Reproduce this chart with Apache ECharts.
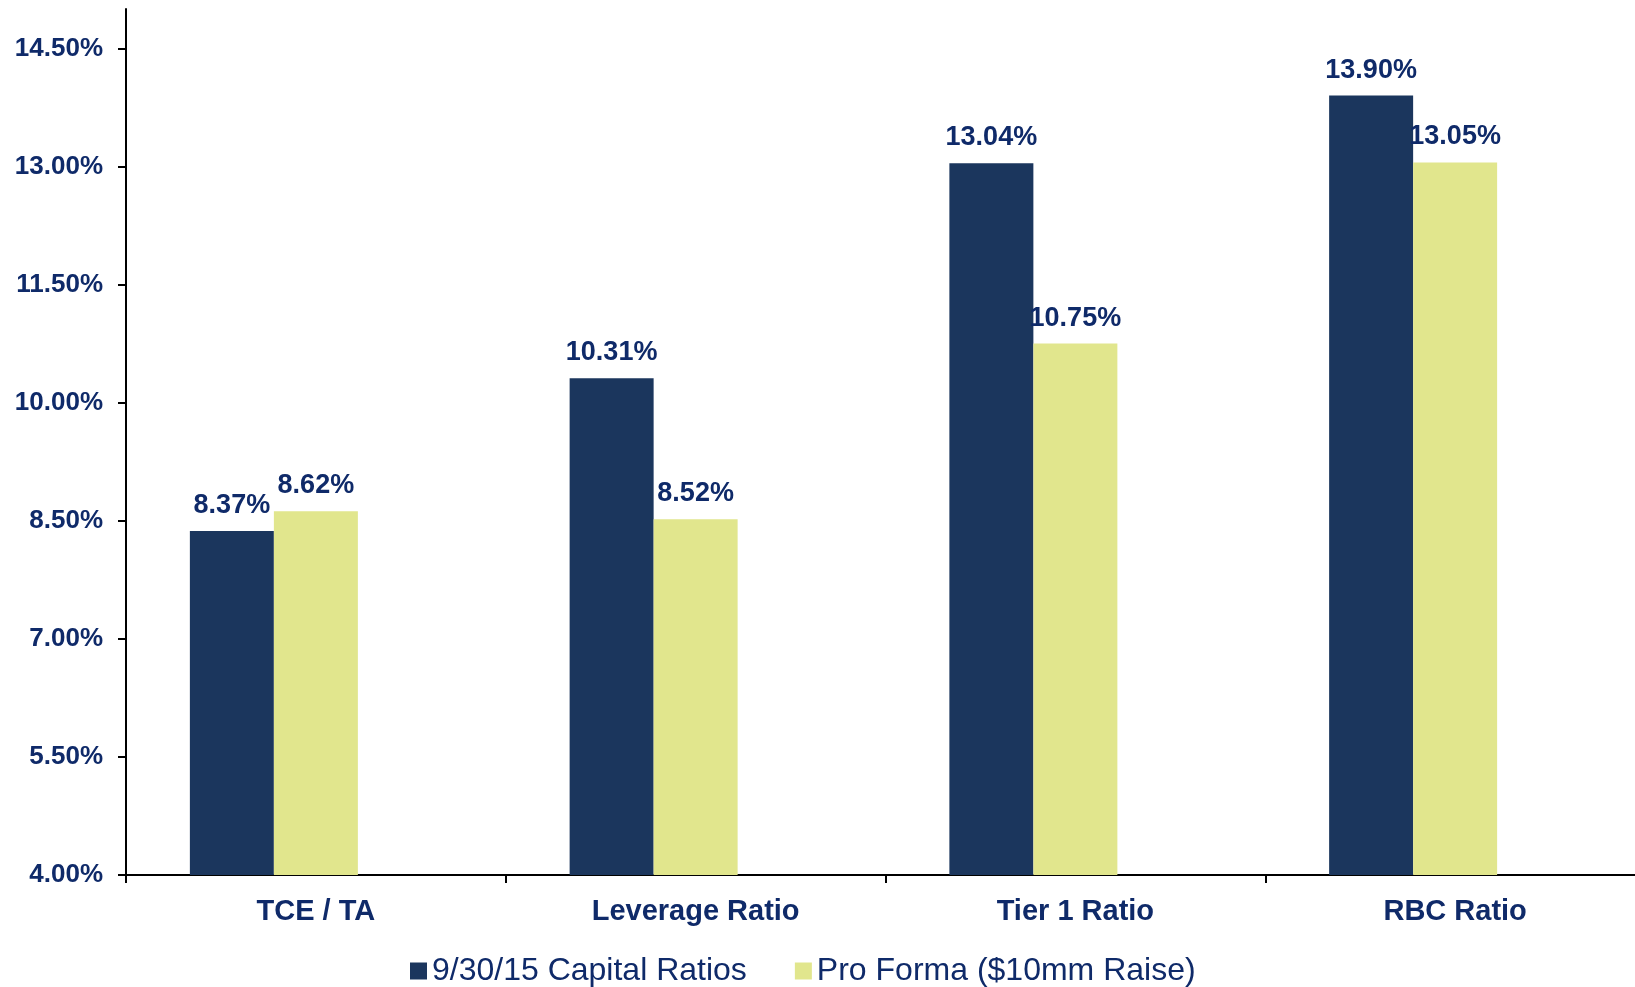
<!DOCTYPE html>
<html>
<head>
<meta charset="utf-8">
<script src="https://cdn.jsdelivr.net/npm/echarts@6/dist/echarts.min.js"></script>
<style>
html,body{margin:0;padding:0;background:#fff;overflow:hidden;}
#chart{width:1645px;height:987px;}
</style>
</head>
<body>
<div id="chart"></div>
<script>
const categories = ['TCE / TA', 'Leverage Ratio', 'Tier 1 Ratio', 'RBC Ratio'];
const seriesNames = ['9/30/15 Capital Ratios', 'Pro Forma ($10mm Raise)'];
const currentRatios = [8.37, 10.31, 13.04, 13.90];
const proFormaRatios = [8.62, 8.52, 10.75, 13.05];
const emptySlot = [null, null, null, null];
const yTicks = [4.0, 5.5, 7.0, 8.5, 10.0, 11.5, 13.0, 14.5];

const navy = '#1b365d';
const lime = '#e1e68d';
const textColor = '#0f2a69';
const font = '"Liberation Sans", Arial, sans-serif';

const chart = echarts.init(document.getElementById('chart'), null, {renderer: 'canvas'});

const labelCfg = {
  show: true,
  position: 'top',
  distance: 12,
  color: textColor,
  fontFamily: font,
  fontWeight: 'bold',
  fontSize: 27,
  formatter: p => p.value.toFixed(2) + '%'
};

chart.setOption({
  animation: false,
  backgroundColor: '#fff',
  grid: {left: 126, top: 9, right: 0, bottom: 112, containLabel: false},
  legend: {
    data: seriesNames,
    left: 405,
    top: 950,
    itemWidth: 17,
    itemHeight: 17,
    itemGap: 48,
    icon: 'rect',
    textStyle: {color: textColor, fontFamily: font, fontSize: 32}
  },
  xAxis: {
    type: 'category',
    data: categories,
    boundaryGap: true,
    axisLine: {lineStyle: {color: '#000', width: 2}},
    axisTick: {show: true, alignWithLabel: false, length: 8, lineStyle: {color: '#000', width: 2}},
    axisLabel: {color: textColor, fontFamily: font, fontWeight: 'bold', fontSize: 29, margin: 22}
  },
  yAxis: {
    type: 'value',
    min: 4,
    max: 15,
    splitLine: {show: false},
    axisLine: {show: true, lineStyle: {color: '#000', width: 2}},
    axisTick: {show: true, length: 8, customValues: yTicks, lineStyle: {color: '#000', width: 2}},
    axisLabel: {
      customValues: yTicks,
      color: textColor, fontFamily: font, fontWeight: 'bold', fontSize: 26, margin: 23,
      formatter: v => v.toFixed(2) + '%'
    }
  },
  series: [
    {name: seriesNames[0], type: 'bar', data: currentRatios, barWidth: 84, barGap: '0%',
     itemStyle: {color: navy}, label: labelCfg},
    {name: seriesNames[1], type: 'bar', data: proFormaRatios, barWidth: 84, barGap: '0%',
     itemStyle: {color: lime}, label: labelCfg},
    {name: 'spacer', type: 'bar', data: emptySlot, barWidth: 84, barGap: '0%',
     itemStyle: {color: 'transparent'}, label: {show: false}}
  ]
});
</script>
</body>
</html>
